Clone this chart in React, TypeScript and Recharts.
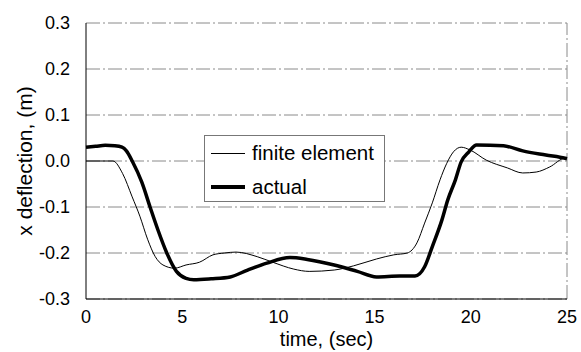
import {
  CartesianGrid,
  Legend,
  Line,
  LineChart,
  ReferenceLine,
  XAxis,
  YAxis,
} from "recharts";

// finite element run (thin line)
const feTime = [
  0, 1.4, 1.9, 2.4, 2.8, 3.2, 3.6, 4.0, 4.6, 5.2, 5.9, 6.6, 7.2, 7.8, 8.9,
  9.7, 10.8, 11.6, 12.9, 13.9, 15.1, 16.0, 16.7, 17.2, 17.6, 18.0, 18.4,
  18.75, 19.1, 19.5, 19.96, 20.8, 21.9, 22.7, 23.4, 24.1, 24.9, 25,
];
const feDefl = [
  0, 0, -0.027, -0.078, -0.12, -0.17, -0.208, -0.226, -0.233, -0.226, -0.22,
  -0.204, -0.2, -0.198, -0.208, -0.22, -0.235, -0.24, -0.237, -0.228, -0.213,
  -0.204, -0.2, -0.178, -0.135, -0.091, -0.041, -0.005, 0.02, 0.03, 0.024,
  0.002, -0.015, -0.026, -0.024, -0.013, 0.006, 0.005,
];

// measured (thick line)
const actTime = [
  0, 0.5, 1.0, 1.5, 1.87, 2.1, 2.4, 2.9, 3.33, 3.74, 4.2, 4.7, 5.2, 5.6, 6.5,
  7.5, 8.4, 9.4, 10.6, 11.5, 12.9, 14.1, 15.1, 16.3, 17.1, 17.6, 18.0, 18.5,
  18.8, 19.2, 19.5, 19.9, 20.3, 21.7, 22.7, 23.9, 24.9, 25,
];
const actDefl = [
  0.03, 0.032, 0.034, 0.033, 0.03, 0.022, 0.0, -0.046, -0.1, -0.15, -0.2,
  -0.24, -0.255, -0.258, -0.256, -0.252, -0.237, -0.222, -0.21, -0.214,
  -0.226, -0.24, -0.252, -0.25, -0.25, -0.23, -0.186, -0.128, -0.085, -0.041,
  -0.002, 0.02, 0.035, 0.033, 0.022, 0.013, 0.006, 0.005,
];

const xTicks = [0, 5, 10, 15, 20, 25];
const yTicks = [-0.3, -0.2, -0.1, 0, 0.1, 0.2, 0.3];

const feData = feTime.map((t, i) => ({ t, x: feDefl[i] }));
const actData = actTime.map((t, i) => ({ t, x: actDefl[i] }));

const FONT = "'Liberation Sans', Arial, sans-serif";

function LegendBox() {
  const row = (w: number, label: string) => (
    <div style={{ display: "flex", alignItems: "center", height: 34 }}>
      <div
        style={{
          width: 34,
          height: w,
          background: "#000",
          marginLeft: 6,
          marginRight: 7,
        }}
      />
      <span style={{ fontSize: 20.5, color: "#000", lineHeight: 1 }}>
        {label}
      </span>
    </div>
  );
  return (
    <div
      style={{
        border: "1px solid #777",
        background: "#fff",
        boxSizing: "border-box",
        width: 181,
        height: 67,
        fontFamily: FONT,
      }}
    >
      {row(1, "finite element")}
      {row(4, "actual")}
    </div>
  );
}

export default function App() {
  return (
    <div style={{ position: "absolute", left: 0, top: 0, fontFamily: FONT }}>
      <LineChart
        width={581}
        height={352}
        margin={{ top: 23, right: 14, left: 0, bottom: 0 }}
      >
        <CartesianGrid
          vertical={false}
          stroke="#8a8a8a"
          strokeDasharray="14 3 2 3"
        />
        <XAxis
          type="number"
          dataKey="t"
          domain={[0, 25]}
          ticks={xTicks}
          height={53}
          tickLine={false}
          tickSize={5}
          tickMargin={6}
          stroke="#000"
          tick={{ fill: "#000", fontSize: 18, fontFamily: FONT }}
          label={{
            value: "time, (sec)",
            position: "insideBottom",
            offset: 6,
            fill: "#000",
            fontSize: 20,
            fontFamily: FONT,
          }}
          allowDuplicatedCategory={false}
        />
        <YAxis
          type="number"
          domain={[-0.3, 0.3]}
          ticks={yTicks}
          width={86}
          tickLine={false}
          tickSize={6}
          tickMargin={10}
          stroke="#000"
          tickFormatter={(v: number) => v.toFixed(1)}
          tick={{ fill: "#000", fontSize: 18, fontFamily: FONT }}
          label={{
            content: (props: any) => {
              const vb = props.viewBox || {};
              const cx = (vb.x ?? 0) + 24;
              const cy = (vb.y ?? 0) + (vb.height ?? 0) / 2;
              return (
                <text
                  x={cx}
                  y={cy}
                  transform={`rotate(-90 ${cx} ${cy})`}
                  textAnchor="middle"
                  dominantBaseline="central"
                  fill="#000"
                  fontSize={21}
                  fontFamily={FONT}
                >
                  x deflection, (m)
                </text>
              );
            },
          }}
        />
        <ReferenceLine x={25} stroke="#8a8a8a" strokeDasharray="14 3 2 3" />
        <Legend
          layout="horizontal"
          verticalAlign="middle"
          align="center"
          wrapperStyle={{ left: 204, top: 135, width: 181, height: 67 }}
          content={() => <LegendBox />}
        />
        <Line
          data={feData}
          dataKey="x"
          name="finite element"
          type="monotone"
          stroke="#000"
          strokeWidth={1}
          dot={false}
          isAnimationActive={false}
        />
        <Line
          data={actData}
          dataKey="x"
          name="actual"
          type="monotone"
          stroke="#000"
          strokeWidth={3.5}
          dot={false}
          isAnimationActive={false}
        />
      </LineChart>
    </div>
  );
}
